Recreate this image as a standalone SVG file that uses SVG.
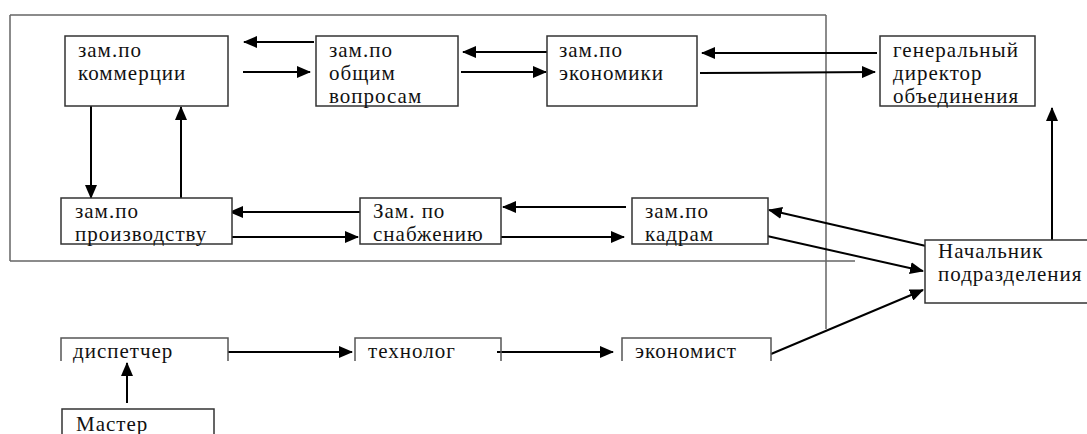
<svg xmlns="http://www.w3.org/2000/svg" width="1087" height="434" viewBox="0 0 1087 434">
<style>
.box{fill:#fff;stroke:#333;stroke-width:1.5}
.frame{fill:none;stroke:#666;stroke-width:1.5}
.br{fill:none;stroke:#555;stroke-width:1.5}
.ar{fill:none;stroke:#000;stroke-width:2;marker-end:url(#ah)}
text{font-size:21px;letter-spacing:1px;fill:#111}
</style>
<defs>
<marker id="ah" markerUnits="userSpaceOnUse" markerWidth="14" markerHeight="12" refX="13" refY="6" orient="auto">
<path d="M0,0 L14,6 L0,12 Z" fill="#000"/>
</marker>
</defs>
<rect width="1087" height="434" fill="#fff"/>
<g id="frame">
<path class="frame" d="M10,15 H826 M10,15 V261 M10,261 H855 M826,15 V329"/>
</g>
<g id="connectors">
<line class="ar" x1="314" y1="42" x2="244" y2="42"/>
<line class="ar" x1="243" y1="72" x2="310" y2="72"/>
<line class="ar" x1="547" y1="52" x2="463" y2="52"/>
<line class="ar" x1="461" y1="72" x2="546" y2="72"/>
<line class="ar" x1="877" y1="53" x2="702" y2="53"/>
<line class="ar" x1="700" y1="73" x2="875" y2="72"/>
<line class="ar" x1="91" y1="106" x2="91" y2="198"/>
<line class="ar" x1="181" y1="220" x2="181" y2="107"/>
<line class="ar" x1="360" y1="212" x2="230" y2="212"/>
<line class="ar" x1="228" y1="237" x2="358" y2="237"/>
<line class="ar" x1="626" y1="207" x2="503" y2="207"/>
<line class="ar" x1="501" y1="237" x2="624" y2="237"/>
<line class="ar" x1="926" y1="246" x2="769" y2="210"/>
<line class="ar" x1="767" y1="236" x2="923" y2="271"/>
<line class="ar" x1="1052" y1="257" x2="1052" y2="108"/>
<line class="ar" x1="228" y1="352" x2="352" y2="352"/>
<line class="ar" x1="497" y1="352" x2="613" y2="352"/>
<line class="ar" x1="771" y1="354" x2="923" y2="290"/>
<line class="ar" x1="127" y1="403" x2="127" y2="363"/>
</g>
<g font-family="Liberation Serif, Tinos, Times New Roman, Noto Serif, FreeSerif, DejaVu Serif, serif">
<g id="n1"><rect class="box" x="65" y="36" width="163" height="70"/><text x="78" y="57">зам.по</text><text x="78" y="80">коммерции</text></g>
<g id="n2"><rect class="box" x="316" y="36" width="142" height="70"/><text x="329" y="57">зам.по</text><text x="329" y="80">общим</text><text x="329" y="103">вопросам</text></g>
<g id="n3"><rect class="box" x="547" y="36" width="150" height="70"/><text x="559" y="57">зам.по</text><text x="559" y="80">экономики</text></g>
<g id="n4"><rect class="box" x="880" y="36" width="155" height="70"/><text x="893" y="57">генеральный</text><text x="893" y="80">директор</text><text x="893" y="103">объединения</text></g>
<g id="n5"><rect class="box" x="61" y="198" width="171" height="46"/><text x="75" y="218">зам.по</text><text x="75" y="241">производству</text></g>
<g id="n6"><rect class="box" x="360" y="198" width="141" height="46"/><text x="373" y="218">Зам. по</text><text x="373" y="241">снабжению</text></g>
<g id="n7"><rect class="box" x="632" y="198" width="136" height="46"/><text x="645" y="218">зам.по</text><text x="645" y="241">кадрам</text></g>
<g id="n8"><rect class="box" x="925" y="240" width="170" height="63"/><text x="938" y="258">Начальник</text><text x="938" y="281">подразделения</text></g>
<g id="n9"><path class="br" d="M61,361 V338 H228 V361"/><text x="73" y="358">диспетчер</text></g>
<g id="n10"><path class="br" d="M355,361 V338 H501 V361"/><text x="368" y="358">технолог</text></g>
<g id="n11"><path class="br" d="M622,361 V338 H771 V361"/><text x="635" y="358">экономист</text></g>
<g id="n12"><rect class="box" x="62" y="409" width="152" height="40"/><text x="76" y="431">Мастер</text></g>
</g>
</svg>
